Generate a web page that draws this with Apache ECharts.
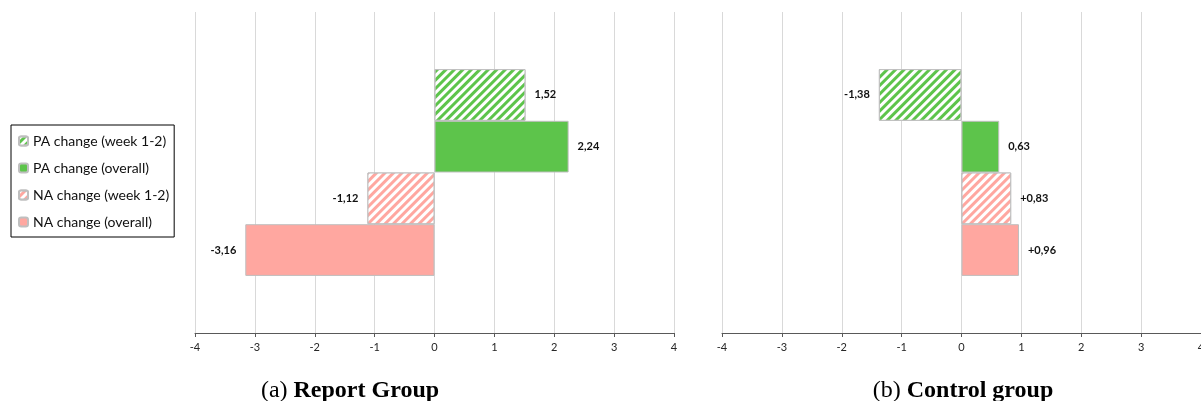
<!DOCTYPE html>
<html>
<head>
<meta charset="utf-8">
<script src="https://cdn.jsdelivr.net/npm/echarts@6/dist/echarts.min.js"></script>
<style>
  html, body { margin: 0; padding: 0; background: #fff; }
  #chart { width: 1201px; height: 401px; }
</style>
</head>
<body>
<div id="chart"></div>
<script>
const chart = echarts.init(document.getElementById('chart'));

const seriesNames = ['PA change (week 1-2)', 'PA change (overall)', 'NA change (week 1-2)', 'NA change (overall)'];
const reportValues = [1.52, 2.24, -1.12, -3.16];
const reportLabels = ['1,52', '2,24', '-1,12', '-3,16'];
const controlValues = [-1.38, 0.63, 0.83, 0.96];
const controlLabels = ['-1,38', '0,63', '+0,83', '+0,96'];
const xTicks = [-4, -3, -2, -1, 0, 1, 2, 3, 4];

const colors = {
  green: '#5dc44b',
  pink: '#ffa7a0',
  border: '#bfbfbf',
  grid: '#d9d9d9',
  axis: '#595959',
  text: '#262626'
};

const seriesColors = [colors.green, colors.green, colors.pink, colors.pink];
const hatched = [true, false, true, false];

const hatch = {
  symbol: 'rect',
  symbolSize: 1,
  color: '#ffffff',
  dashArrayX: [1, 0],
  dashArrayY: [2.5, 2.5],
  rotation: -Math.PI / 4
};

const xAxisBase = (gridIndex) => ({
  type: 'value',
  gridIndex,
  min: xTicks[0],
  max: xTicks[xTicks.length - 1],
  interval: 1,
  axisLine: { show: true, onZero: false, lineStyle: { color: colors.axis, width: 1 } },
  axisTick: { show: true, length: 4, lineStyle: { color: colors.axis } },
  axisLabel: { color: colors.text, fontFamily: 'Lato', fontSize: 11, margin: 9 },
  splitLine: { show: true, lineStyle: { color: colors.grid, width: 1 } }
});

const yAxisBase = (gridIndex) => ({
  type: 'category',
  gridIndex,
  inverse: true,
  data: [''],
  axisLine: { show: false },
  axisTick: { show: false },
  axisLabel: { show: false },
  splitLine: { show: false }
});

const makeSeries = (values, labels, axisIndex) => values.map((v, i) => {
  const itemStyle = {
    color: seriesColors[i],
    borderColor: colors.border,
    borderWidth: 1
  };
  if (hatched[i]) itemStyle.decal = hatch;
  return {
    name: seriesNames[i],
    type: 'bar',
    xAxisIndex: axisIndex,
    yAxisIndex: axisIndex,
    barWidth: 51.7,
    barGap: '0%',
    data: [v],
    itemStyle,
    label: {
      show: true,
      position: v < 0 ? 'left' : 'right',
      distance: 9,
      fontFamily: 'Lato',
      fontWeight: 'bold',
      fontSize: 11,
      color: '#111',
      formatter: () => labels[i]
    },
    emphasis: { disabled: true }
  };
});

const titleStyle = {
  fontWeight: 'normal',
  rich: {
    n: { fontFamily: 'Liberation Serif', fontSize: 24, fontWeight: 'normal', color: '#000' },
    b: { fontFamily: 'Liberation Serif', fontSize: 24, fontWeight: 'bold', color: '#000' }
  }
};

chart.setOption({
  animation: false,
  title: [
    { text: '{n|(a) }{b|Report Group}', left: 345, top: 374, textAlign: 'center', textStyle: titleStyle },
    { text: '{n|(b) }{b|Control group}', left: 958, top: 374, textAlign: 'center', textStyle: titleStyle }
  ],
  legend: {
    orient: 'vertical',
    left: 11,
    top: 125,
    data: seriesNames,
    borderColor: '#000',
    borderWidth: 1,
    padding: [9, 5, 8, 7],
    itemWidth: 9,
    itemHeight: 9,
    itemGap: 13,
    selectedMode: false,
    textStyle: { fontFamily: 'Lato', fontSize: 14, color: '#111' }
  },
  grid: [
    { left: 195, top: 12, width: 479, height: 321, outerBoundsMode: 'none' },
    { left: 722, top: 12, width: 479, height: 321, outerBoundsMode: 'none' }
  ],
  xAxis: [xAxisBase(0), xAxisBase(1)],
  yAxis: [yAxisBase(0), yAxisBase(1)],
  series: [
    ...makeSeries(reportValues, reportLabels, 0),
    ...makeSeries(controlValues, controlLabels, 1)
  ]
});
</script>
</body>
</html>
